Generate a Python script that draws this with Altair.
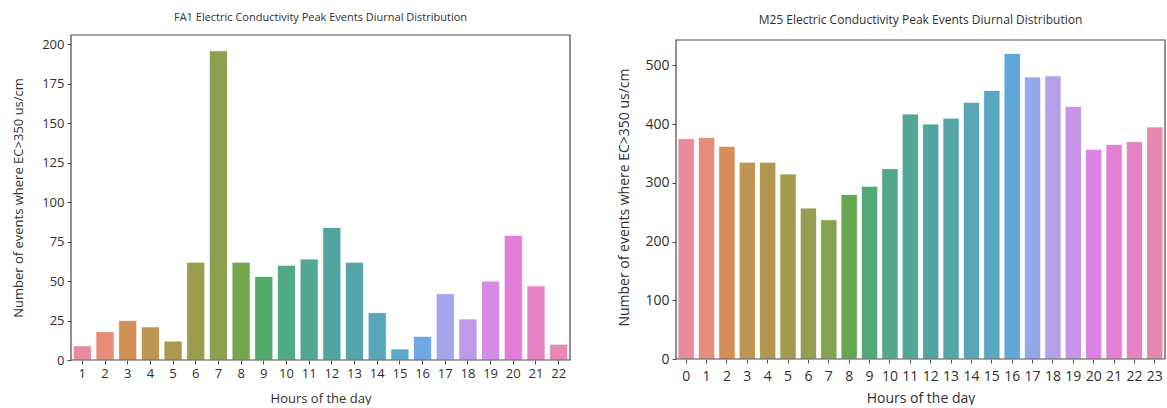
import math
import colorsys
import altair as alt
import pandas as pd

# ---------------- data ----------------
fa1_hours = list(range(1, 23))
fa1_counts = [9, 18, 25, 21, 12, 62, 196, 62, 53, 60, 64, 84, 62, 30, 7, 15, 42, 26, 50, 79, 47, 10]

m25_hours = list(range(0, 24))
m25_counts = [375, 377, 362, 335, 335, 315, 257, 237, 280, 294, 324, 417, 400, 410,
              437, 457, 520, 480, 482, 430, 357, 365, 370, 395]

fa1_title = "FA1 Electric Conductivity Peak Events Diurnal Distribution"
m25_title = "M25 Electric Conductivity Peak Events Diurnal Distribution"
x_title = "Hours of the day"
y_title = "Number of events where EC>350 us/cm"
fa1_ticks = [0, 25, 50, 75, 100, 125, 150, 175, 200]
m25_ticks = [0, 100, 200, 300, 400, 500]
fa1_ymax = 206
m25_ymax = 543

# ---------------- seaborn-like husl palette ----------------
_m = [[3.2406, -1.5372, -0.4986], [-0.9689, 1.8758, 0.0415], [0.0557, -0.2040, 1.0570]]
_refU, _refV, _lab_e, _lab_k = 0.19784, 0.46834, 0.008856, 903.3


def _max_chroma(L, H):
    hrad = math.radians(H)
    sinH, cosH = math.sin(hrad), math.cos(hrad)
    sub1 = (L + 16) ** 3 / 1560896.0
    sub2 = sub1 if sub1 > _lab_e else L / _lab_k
    result = float("inf")
    for m1, m2, m3 in _m:
        top = (0.99915 * m1 + 1.05122 * m2 + 1.14460 * m3) * sub2
        rbottom = 0.86330 * m3 - 0.17266 * m2
        lbottom = 0.12949 * m3 - 0.38848 * m1
        bottom = (rbottom * sinH + lbottom * cosH) * sub2
        for t in (0.0, 1.0):
            C = L * (top - 1.05122 * t) / (bottom + 0.17266 * sinH * t)
            if 0.0 < C < result:
                result = C
    return result


def _from_linear(c):
    return 12.92 * c if c <= 0.0031308 else 1.055 * c ** (1 / 2.4) - 0.055


def _husl_to_rgb(H, S, L):
    C = _max_chroma(L, H) / 100.0 * S
    U = math.cos(math.radians(H)) * C
    V = math.sin(math.radians(H)) * C
    t = (L + 16) / 116.0
    varY = t ** 3 if t ** 3 > _lab_e else (116 * t - 16) / _lab_k
    varU = U / (13.0 * L) + _refU
    varV = V / (13.0 * L) + _refV
    Y = varY
    X = 0.0 - (9.0 * Y * varU) / ((varU - 4.0) * varV - varU * varV)
    Z = (9.0 * Y - (15.0 * varV * Y) - (varV * X)) / (3.0 * varV)
    rgb = [_from_linear(r[0] * X + r[1] * Y + r[2] * Z) for r in _m]
    return [min(1, max(0, v)) for v in rgb]


def husl_palette(n, desat=0.75, wash=0.08):
    out = []
    for i in range(n):
        h = ((i / n) + 0.01) % 1 * 359
        r, g, b = _husl_to_rgb(h, 0.9 * 99, 0.65 * 99)
        hh, ll, ss = colorsys.rgb_to_hls(r, g, b)
        rgb = colorsys.hls_to_rgb(hh, ll, ss * desat)
        rgb = [v + (1 - v) * wash for v in rgb]
        out.append("#%02x%02x%02x" % tuple(int(round(v * 255)) for v in rgb))
    return out


FONT = "Open Sans"
FRAME = "#4a4a4a"
TXT = "#303030"


def panel(hours, counts, title, ticks, ymax, dom_top, w, h, fs_title, fs_lab, fs_axt,
          ytp, toff, xlp, xtp):
    df = pd.DataFrame({"hour": hours, "count": counts})
    pal = husl_palette(len(hours))
    yscale = alt.Scale(domain=[0, dom_top], nice=False, zero=True)
    bars = alt.Chart(df).mark_bar(stroke="white", strokeWidth=0.8).encode(
        x=alt.X("hour:O", title=x_title,
                scale=alt.Scale(paddingInner=0.2, paddingOuter=0.1),
                axis=alt.Axis(labelAngle=0, labelFontSize=fs_lab, labelFont=FONT, labelColor=TXT,
                              titleFontSize=fs_axt, titleFont=FONT, titleFontWeight="normal",
                              titleColor=TXT, domain=False, tickColor=FRAME, tickSize=4,
                              labelPadding=xlp, titlePadding=xtp)),
        y=alt.Y("count:Q", title=y_title, scale=yscale,
                axis=alt.Axis(values=ticks, labelFontSize=fs_lab, labelFont=FONT, labelColor=TXT,
                              titleFontSize=fs_axt, titleFont=FONT, titleFontWeight="normal",
                              titleColor=TXT, domain=False, tickColor=FRAME, tickSize=4,
                              grid=False, labelPadding=3, titlePadding=ytp)),
        color=alt.Color("hour:O", scale=alt.Scale(domain=hours, range=pal), legend=None),
    )
    frame = alt.Chart(pd.DataFrame({"top": [ymax], "bottom": [0]})).mark_rect(
        fill="transparent", stroke=FRAME, strokeWidth=1.2
    ).encode(
        x=alt.value(0), x2=alt.value(w),
        y=alt.Y("top:Q", scale=yscale), y2="bottom:Q",
    )
    return alt.layer(bars, frame).properties(
        width=w, height=h,
        title=alt.TitleParams(title, fontSize=fs_title, font=FONT, fontWeight="normal",
                              color=TXT, offset=toff),
    )


left = panel(fa1_hours, fa1_counts, fa1_title, fa1_ticks, fa1_ymax, fa1_ymax,
             499, 325, 11, 13, 13, 16, 11, 3, 12)
right = panel(m25_hours, m25_counts, m25_title, m25_ticks, m25_ymax, m25_ymax * 324 / 319,
              489, 324, 12, 14, 14, 13, 8, 6, 8)

chart = alt.hconcat(left, right, spacing=46).resolve_scale(color="independent").properties(
    padding={"left": 12, "top": 12, "right": 0, "bottom": 0},
    background="white",
).configure_view(strokeWidth=0)

chart.save("out.html", embed_options={"renderer": "svg", "actions": False})
